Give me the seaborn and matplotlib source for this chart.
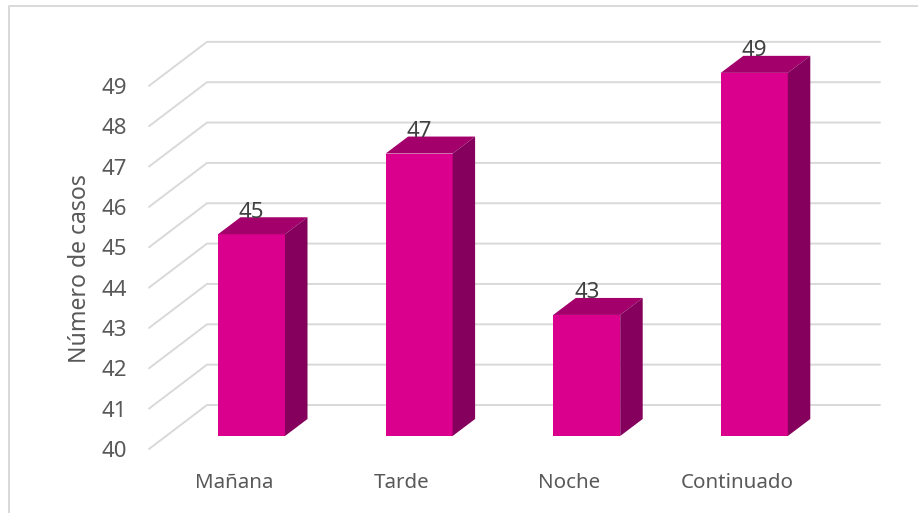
import matplotlib
matplotlib.use('Agg')
import matplotlib.pyplot as plt
from matplotlib.patches import Polygon
import pandas as pd
import seaborn as sns

# Datos del grafico
turnos = ['Mañana', 'Tarde', 'Noche', 'Continuado']
casos = [45, 47, 43, 49]
eje_y = [40, 41, 42, 43, 44, 45, 46, 47, 48, 49]
base = 40

FRENTE = '#DA008D'
TECHO = '#A3006C'
LADO = '#85005D'
GRIS = '#D9D9D9'
TEXTO = '#595959'

sns.set_theme(style='white')
plt.rcParams['font.family'] = ['Noto Sans', 'DejaVu Sans']

W, H = 918, 513
PASO_X, PASO_Y = 167.6, 40.35  # pixeles por categoria y por unidad
X0, Y0 = 251.5, 436.0  # pixel de la primera barra y de la base


def px_x(x):
    return (x - X0) / PASO_X


def px_y(y):
    return base + (Y0 - y) / PASO_Y


df = pd.DataFrame({'turno': turnos, 'casos': [c - base for c in casos]})

fig = plt.figure(figsize=(W / 100, H / 100), dpi=100)
ax = fig.add_axes([0, 0, 1, 1])

sns.barplot(data=df, x='turno', y='casos', bottom=base, color=FRENTE, saturation=1,
            width=67 / PASO_X, ax=ax, zorder=3, linewidth=0, edgecolor='none')

ax.set_xlim(px_x(0), px_x(W))
ax.set_ylim(px_y(H), px_y(0))
ax.axis('off')

# Marco exterior
ax.plot([px_x(9), px_x(9), px_x(W)], [px_y(H), px_y(6), px_y(6)], color=GRIS, lw=1.4, zorder=1)

# Paredes: diagonales a la izquierda y lineas horizontales al fondo
suelo = px_y(449) - base
fondo = px_y(405) - base
for v in eje_y:
    ax.plot([px_x(149), px_x(207), px_x(880)], [v + suelo, v + fondo, v + fondo],
            color=GRIS, lw=1.4, zorder=1, solid_joinstyle='miter')
    ax.text(px_x(127), v + suelo, str(v), ha='right', va='center_baseline', fontsize=16, color=TEXTO)

# Profundidad de las barras
dx = 22.5 / PASO_X
dy = 17 / PASO_Y
for barra, c in zip(ax.patches, casos):
    x0 = barra.get_x()
    x1 = x0 + barra.get_width()
    ax.add_patch(Polygon([(x0, c), (x1, c), (x1 + dx, c + dy), (x0 + dx, c + dy)],
                         facecolor=TECHO, edgecolor='none', zorder=3))
    ax.add_patch(Polygon([(x1, base), (x1 + dx, base + dy), (x1 + dx, c + dy), (x1, c)],
                         facecolor=LADO, edgecolor='none', zorder=3))
    ax.text((x0 + x1) / 2, c + 24.5 / PASO_Y, str(c), ha='center', va='center_baseline',
            fontsize=16, color='#404040', zorder=4)

for i, t in enumerate(turnos):
    ax.text(i - 17.5 / PASO_X, px_y(480), t, ha='center', va='center_baseline', fontsize=14.8, color=TEXTO)

ax.text(px_x(80), px_y(268.5), 'Número de casos', rotation=90, ha='center', va='center',
        fontsize=16.6, color=TEXTO)

fig.savefig('out.png', dpi=100)
plt.close(fig)
